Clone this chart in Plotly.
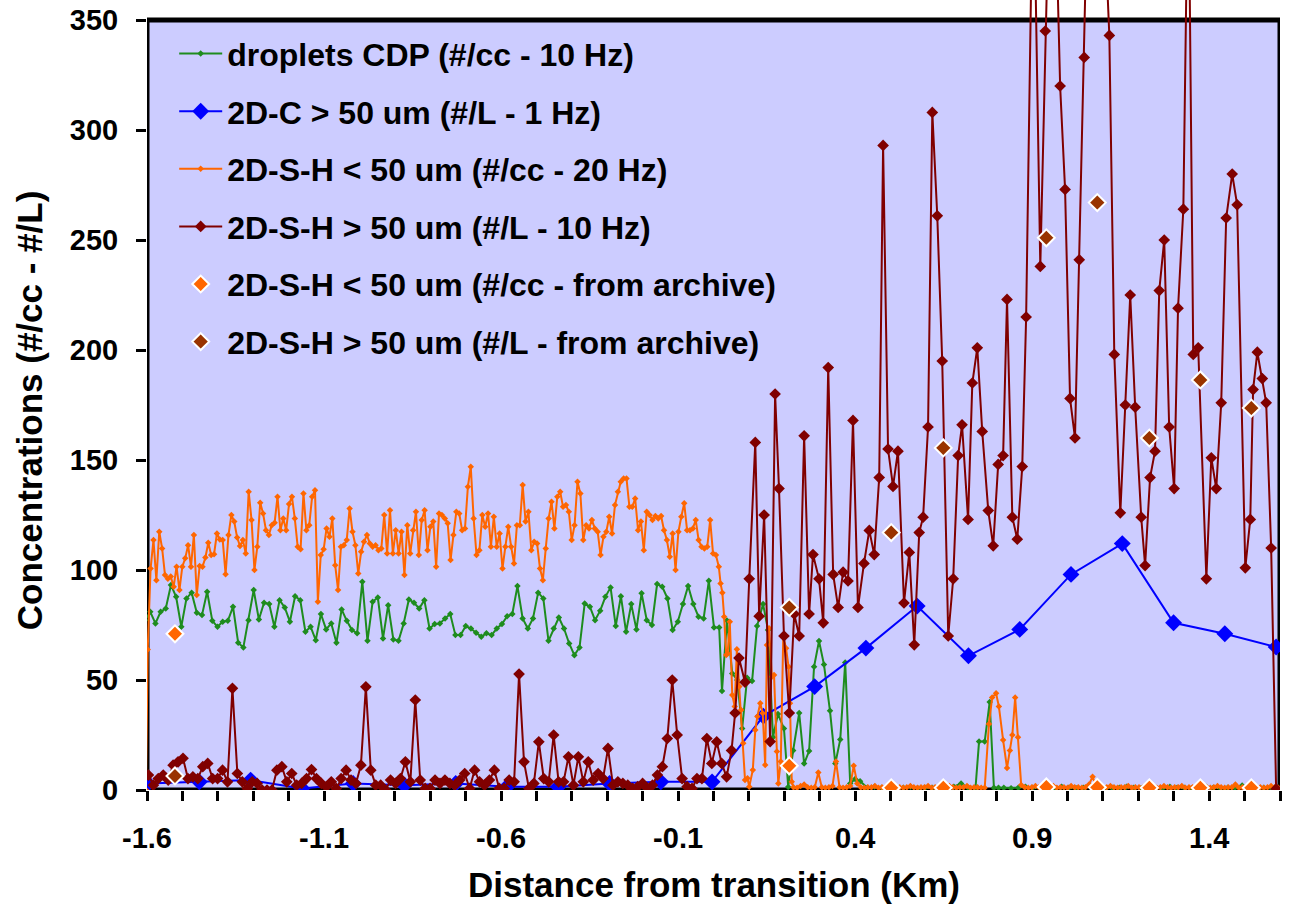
import numpy as np
import plotly.graph_objects as go

# ---------------- data (distance in km, concentrations) ----------------
# droplets CDP (#/cc - 10 Hz)
GREEN_SEG1_X = (-1.620, 0.016)
GREEN_SEG1_Y = [88, 77.2, 81, 75.7, 81, 82.5, 93.2, 87.8, 74.2, 87.1, 89.7, 80.6, 79.5, 90.1, 76.9, 74.2,
                76.5, 76.9, 83.3, 66.9, 64.8, 77.2, 90.9, 77.5, 85.1, 84.5, 74.2, 86.3, 83, 76.5, 88.1, 86.3,
                71.9, 74.2, 68.1, 80, 73, 75.7, 66.9, 82.1, 76.9, 72.7, 71.2, 94.7, 67.8, 85.6, 87.5, 68.9,
                84, 68.4, 67.8, 75.7, 86.6, 85.1, 82.5, 86.3, 73.4, 75.4, 75.7, 78, 80, 70.4, 70.4, 74.5,
                73.4, 71.5, 69.7, 71.2, 70.4, 73.4, 75.4, 79, 80, 92.7, 78, 73.4, 78, 89.7, 87.1, 67.8,
                73.4, 78.4, 73.4, 66.6, 61.3, 64.8, 84.8, 83.3, 77.2, 81.5, 87.8, 92.1, 74.5, 88.1, 71.9,
                84.5, 73, 89.4, 77.2, 75, 93.6, 92.4, 87.1, 72.7, 76.5, 84.5, 92.7, 84.5, 78.8, 78, 95.1,
                73.9, 73.9]
GREEN_SEG2_X = [0.024, 0.038, 0.053, 0.067, 0.081, 0.095, 0.109, 0.123, 0.140, 0.154, 0.168, 0.182, 0.199,
                0.211, 0.225, 0.242, 0.256, 0.270, 0.284, 0.298, 0.312, 0.329, 0.344, 0.358, 0.372, 0.386, 0.400]
GREEN_SEG2_Y = [45, 77, 53, 50, 28, 51, 49.5, 74.5, 84.5, 72.7, 24, 34.5, 28, 1.4, 18, 35, 12, 17.7, 56,
                67.7, 57, 36, 12, 23, 58, 3, 5]
GREEN_SEG3_X = (0.414, 0.740)
GREEN_SEG3_Y = [4, 1, 1.5, 1, 0.8, 1, 1, 1.5, 0.8, 1, 1, 0.8, 1, 1.5, 3, 1, 1]
GREEN_SEG4_X = [0.750, 0.766, 0.780, 0.792, 0.805]
GREEN_SEG4_Y = [22, 22, 40, 1, 1]
GREEN_SEG5_X = (0.820, 1.595)
GREEN_SEG5_Y = [1, 0.8, 1, 1.5, 1, 0.8, 1, 1, 1.5, 1, 0.8, 1, 2, 1, 0.8, 1, 1, 1.5, 1, 0.8,
                1, 1, 0.8, 1.5, 1, 1, 0.8, 1, 1.5, 1, 0.8, 1, 1, 2, 1, 0.8, 1, 1, 0.8]

# 2D-C > 50 um (#/L - 1 Hz)
BLUE_X = (-1.597, 1.589)
BLUE_Y = [3, 3.7, 4.5, 0.7, 3, 2.2, 3, 1.5, 1.5, 3, 3.7, 3.7, 33.6, 47, 64.5, 83.6, 61, 73, 98, 112, 76, 71, 65]

# 2D-S-H < 50 um (#/cc - 20 Hz)
ORANGE_SEG0_X = [-1.603]
ORANGE_SEG0_Y = [0]
ORANGE_SEG1_X = (-1.598, 0.015)
ORANGE_SEG1_Y = [63.9, 100.7, 113.6, 95.4, 117.4, 109.8, 97.7, 96, 97, 92.4, 101.5, 90.9, 101.5, 105.3, 111.3,
                 101.5, 115.9, 88.6, 101.8, 101.5, 105.7, 112.4, 106.8, 107.2, 116.6, 113.9, 113.6, 98.1,
                 115.9, 125, 122, 114.8, 110.9, 113.6, 107.5, 135.6, 122.7, 100, 110.6, 130.6, 125.7, 118.1,
                 115.9, 120.4, 121.5, 133.3, 118.1, 123.4, 118.1, 130, 133.3, 123.4, 110.6, 109.4, 134.8,
                 118.1, 120.4, 133.3, 136.3, 85.6, 106.8, 109.4, 118.9, 115.1, 123.4, 102.2, 90.9, 110.6,
                 111.3, 113.6, 128, 117.4, 111.3, 98.4, 108.3, 112.8, 115.9, 112.1, 110.6, 111.3, 109, 109.8,
                 125, 107.5, 127.2, 107.5, 118.1, 107.5, 117.4, 97.7, 120.4, 107.5, 118.1, 126.5, 106.8,
                 122.7, 127.2, 109, 119.7, 122, 101.5, 125.7, 125, 123.4, 121.2, 104.5, 115.9, 126.5, 125.7,
                 118.1, 118.9, 137.8, 146.9, 123.4, 106.8, 109, 125, 119.7, 125.7, 110.6, 124.2, 110.6, 116.6,
                 100.7, 110.6, 119.7, 110.6, 103, 120.4, 120.4, 138.6, 122, 126.5, 109, 112.8, 112.1, 100.7,
                 95.4, 109.8, 123.4, 131, 118.9, 133.3, 135.6, 128.7, 129.5, 126.5, 113.6, 120.4, 140.1,
                 134.8, 113.6, 120.4, 118.9, 122.7, 118.9, 117.4, 106.8, 115.1, 117.4, 124.2, 116.6, 129.5,
                 135.6, 140.1, 141.6, 141.6, 128.7, 128.7, 132.5, 118.1, 122, 109, 126.5, 125, 122.7, 124.5,
                 123.4, 124.5, 118.1, 113.6, 106, 116.6, 100, 117.4, 124.2, 130.3, 118.1, 118.1, 118.9,
                 122.7, 113.6, 110.6, 109.8, 110.6, 122.7, 107.5, 106.8, 101.5]
ORANGE_SEG2_X = [0.020, 0.025, 0.030, 0.036, 0.040, 0.046, 0.053, 0.060, 0.066, 0.073, 0.078, 0.084, 0.089,
                 0.096, 0.101, 0.111, 0.118, 0.124, 0.132, 0.139, 0.146, 0.151, 0.157, 0.165, 0.171, 0.179,
                 0.183, 0.190, 0.197, 0.205, 0.212, 0.216, 0.221]
ORANGE_SEG2_Y = [93.9, 89.7, 78.8, 61.4, 62, 76.5, 43.2, 37.9, 64, 47, 36.4, 21.2, 4.6, 5.3, 1.5, 9.1, 27.3,
                 33.4, 39.4, 34.9, 11.4, 65.9, 73.5, 51.5, 52.3, 17.5, 3, 12.9, 69.7, 64.4, 56, 39.4, 3.8]
ORANGE_SEG3_X = (0.226, 0.756)
ORANGE_SEG3_Y = [1.2, 1, 1.8, 2.5, 1.2, 1, 1.2, 8, 1.2, 1, 1.2, 1.8, 13, 1.2, 1, 1.2, 1.8, 11, 3, 1.2,
                 1, 1.2, 1.2, 1.8, 1, 1.2, 1.2, 1, 1.8, 1.2, 1.2, 1, 1.2, 1.8, 1.2, 1, 1.2, 1.2, 1.8, 1,
                 1.2, 1.2, 1, 1.2, 1.8, 1.2, 1, 1.2, 1.2, 1.8, 1, 1.2, 1.2, 1]
ORANGE_SEG4_X = [0.766, 0.778, 0.787, 0.798, 0.806, 0.818, 0.829, 0.837, 0.844, 0.852, 0.860, 0.869]
ORANGE_SEG4_Y = [1, 30, 42, 44, 38, 22.7, 10, 18, 25, 42, 24, 2.3]
ORANGE_SEG5_X = (0.879, 1.595)
ORANGE_SEG5_Y = [1.2, 1, 1.2, 1.8, 1.2, 1, 1.2, 1.2, 1.8, 1, 1.2, 1.2, 1, 1.8, 1.2, 1.2, 1, 1.2, 2.5, 6,
                 1.8, 1.2, 1, 1.2, 1.8, 1.2, 1, 1.2, 1.2, 1.8, 1, 1.2, 1.2, 1, 1.8, 1.2, 1.2, 1, 1.2, 1.8,
                 1.2, 1, 1.2, 1.2, 1.8, 1, 1.2, 1.2, 1, 1.8, 1.2, 1.2, 1, 1.2, 1.8, 1.2, 1, 1.2, 1.2, 2.5,
                 1, 1.2, 1.2, 1, 1.8, 1.2, 1.2, 1, 1.2, 1.8, 1.2, 1]

# 2D-S-H > 50 um (#/L - 10 Hz)
RED_SEG1_X = (-1.596, 0.051)
RED_SEG1_Y = [6.8, 2.2, 5.2, 6.8, 4.5, 11.3, 12.8, 14.4, 5.2, 6, 5.2, 10.6, 12.1, 5.2, 5.2, 9, 3.7, 46.2,
              7.5, 3.7, 0.7, 3.7, 3, 0, 0, 0, 9, 10.6, 3.7, 7.5, 2.2, 3, 5.2, 9.3, 5.2, 3, 1.5, 3.7, 0.7,
              5.2, 9, 4.5, 3, 11.3, 46.9, 9, 2.2, 2.2, 0, 4.5, 3, 5.2, 12.8, 3.7, 40.9, 4.5, 0.7, 0.7, 4.5,
              3, 4.5, 3, 2.2, 4.5, 7.5, 0.7, 9, 3.7, 2.2, 4.5, 9, 0.7, 0.7, 4.5, 3.7, 52.7, 12.8, 0.7, 3,
              21.9, 5.2, 3.7, 25, 3.7, 3.7, 15.1, 2.2, 15.1, 3.7, 12.8, 4.5, 7.5, 5.2, 18.9, 2.2, 3.7, 3,
              2.2, 0.7, 1.5, 3, 0.7, 2.2, 6.8, 10.6, 23.4, 50, 25, 5.2, 1.5, 0.7, 5.2, 5.2, 23.4, 12.1,
              21.9, 12.1, 6, 18]
RED_SEG2_X = [0.061, 0.072, 0.089, 0.101, 0.118, 0.129, 0.143, 0.160, 0.174, 0.185, 0.199, 0.214, 0.228,
              0.242, 0.256, 0.270, 0.281, 0.298, 0.310, 0.324, 0.338, 0.352, 0.366, 0.380, 0.394, 0.408,
              0.425, 0.440, 0.454, 0.468, 0.479, 0.493, 0.507, 0.521, 0.538, 0.553, 0.567, 0.581, 0.592,
              0.606, 0.618, 0.632, 0.646, 0.663, 0.677, 0.691, 0.702, 0.719, 0.731, 0.745, 0.759, 0.776,
              0.790, 0.804, 0.818, 0.829, 0.844, 0.858, 0.872, 0.883, 0.903, 0.923, 0.937, 0.951, 0.965,
              0.979, 0.993, 1.007, 1.021, 1.033, 1.047, 1.061, 1.075, 1.089, 1.103, 1.118, 1.132, 1.149,
              1.163, 1.177, 1.191, 1.208, 1.219, 1.233, 1.247, 1.259, 1.273, 1.287, 1.301, 1.312, 1.327,
              1.341, 1.355, 1.369, 1.392, 1.406, 1.420, 1.434, 1.448, 1.465, 1.479, 1.502, 1.516, 1.524,
              1.536, 1.550, 1.561, 1.575, 1.589]
RED_SEG2_Y = [35, 60, 49, 96, 158, 79, 125, 22, 180, 137, 70, 35, 80, 70, 161, 80, 107, 96, 76, 192, 98, 83,
              99, 95, 168, 83, 103, 118, 107, 142, 293, 155, 138, 154, 85, 108, 66, 117, 124, 165, 308, 261,
              195, 70, 96, 152, 166, 123, 185, 201, 163, 127, 111, 148, 152, 223, 124, 114, 147, 215, 430,
              238, 345, 430, 410, 320, 273, 178, 160, 241, 333, 440, 450, 430, 400, 343, 198, 126, 175, 225,
              174, 124, 102, 142, 154, 227, 250, 165, 137, 219, 264, 430, 198, 201, 96, 151, 137, 176, 260,
              280, 266, 101, 123, 182, 199, 187, 176, 110, 0.5]

# archive values (1 Hz)
ARCH_X = [-1.521, 0.214, 0.502, 0.649, 0.940, 1.084, 1.231, 1.375, 1.519]
ARCH_SMALL_Y = [71, 11, 1, 1, 1.4, 1.2, 1, 1, 1]
ARCH_LARGE_Y = [6.4, 83, 117, 155.5, 251, 267, 160, 186.4, 173.6]

X_TICKS = [round(-1.6 + 0.1 * i, 1) for i in range(33)]
X_LABELS = ['-1.6', '-1.1', '-0.6', '-0.1', '0.4', '0.9', '1.4']
Y_TICKS = [0, 50, 100, 150, 200, 250, 300, 350]

NAMES = ['droplets CDP (#/cc - 10 Hz)', '2D-C > 50 um (#/L - 1 Hz)', '2D-S-H < 50 um (#/cc - 20 Hz)',
         '2D-S-H > 50 um (#/L - 10 Hz)', '2D-S-H < 50 um (#/cc - from archive)',
         '2D-S-H > 50 um (#/L - from archive)']


def seg_uniform(xr, vals):
    return list(np.linspace(xr[0], xr[1], len(vals))), list(vals)


def join(*parts):
    xs, ys = [], []
    for px, py in parts:
        xs += list(px)
        ys += list(py)
    return xs, ys


gx, gy = join(seg_uniform(GREEN_SEG1_X, GREEN_SEG1_Y), (GREEN_SEG2_X, GREEN_SEG2_Y),
              seg_uniform(GREEN_SEG3_X, GREEN_SEG3_Y), (GREEN_SEG4_X, GREEN_SEG4_Y),
              seg_uniform(GREEN_SEG5_X, GREEN_SEG5_Y))
bx, by = seg_uniform(BLUE_X, BLUE_Y)
ox, oy = join((ORANGE_SEG0_X, ORANGE_SEG0_Y), seg_uniform(ORANGE_SEG1_X, ORANGE_SEG1_Y),
              (ORANGE_SEG2_X, ORANGE_SEG2_Y), seg_uniform(ORANGE_SEG3_X, ORANGE_SEG3_Y),
              (ORANGE_SEG4_X, ORANGE_SEG4_Y), seg_uniform(ORANGE_SEG5_X, ORANGE_SEG5_Y))
rx, ry = join(seg_uniform(RED_SEG1_X, RED_SEG1_Y), (RED_SEG2_X, RED_SEG2_Y))

GREEN = '#1E8C1E'
BLUE = '#0000FF'
ORANGE = '#FF6600'
DARKRED = '#800000'
BROWN = '#993300'
BG = '#CCCCFF'
FONT = 'Liberation Sans, Arial, sans-serif'

fig = go.Figure()
fig.add_trace(go.Scatter(x=gx, y=gy, mode='lines+markers', name=NAMES[0], legendgroup='a',
                         line=dict(color=GREEN, width=2),
                         marker=dict(symbol='diamond', size=5, color=GREEN)))
fig.add_trace(go.Scatter(x=bx, y=by, mode='lines+markers', name=NAMES[1], legendgroup='b',
                         line=dict(color=BLUE, width=2),
                         marker=dict(symbol='diamond', size=13, color=BLUE)))
fig.add_trace(go.Scatter(x=ox, y=oy, mode='lines+markers', name=NAMES[2], legendgroup='c',
                         line=dict(color=ORANGE, width=2),
                         marker=dict(symbol='diamond', size=5, color=ORANGE)))
fig.add_trace(go.Scatter(x=rx, y=ry, mode='lines+markers', name=NAMES[3], legendgroup='d',
                         line=dict(color=DARKRED, width=2),
                         marker=dict(symbol='diamond', size=9, color=DARKRED)))
fig.add_trace(go.Scatter(x=ARCH_X, y=ARCH_SMALL_Y, mode='markers', name=NAMES[4], legendgroup='e',
                         marker=dict(symbol='diamond', size=13, color=ORANGE,
                                     line=dict(color='white', width=2))))
fig.add_trace(go.Scatter(x=ARCH_X, y=ARCH_LARGE_Y, mode='markers', name=NAMES[5], legendgroup='f',
                         marker=dict(symbol='diamond', size=13, color=BROWN,
                                     line=dict(color='white', width=2))))

fig.update_layout(
    width=1290, height=905,
    margin=dict(l=147, r=10, t=0, b=115, autoexpand=False),
    paper_bgcolor='white', plot_bgcolor='white',
    font=dict(family=FONT, color='black'),
    showlegend=True,
    legend=dict(x=0.024, y=0.9667, xanchor='left', yanchor='top', bgcolor='rgba(0,0,0,0)',
                font=dict(family=FONT, size=32, color='black', weight='bold'),
                tracegroupgap=13, itemwidth=43, traceorder='grouped'),
    xaxis=dict(range=[-1.6, 1.6], tickmode='array', tickvals=X_TICKS,
               ticktext=[X_LABELS[i // 5] if i % 5 == 0 else '' for i in range(len(X_TICKS))],
               ticks='outside', ticklen=10, tickwidth=3, tickcolor='black',
               showgrid=False, zeroline=False, showline=False, ticklabelstandoff=12,
               tickfont=dict(family=FONT, size=29, color='black', weight='bold')),
    yaxis=dict(range=[0, 359.1], tickmode='array', tickvals=Y_TICKS,
               ticks='outside', ticklen=10, tickwidth=3, tickcolor='black',
               showgrid=False, zeroline=False, showline=False, ticklabelstandoff=12,
               ticklabeloverflow='allow',
               tickfont=dict(family=FONT, size=29, color='black', weight='bold')),
    shapes=[
        dict(type='rect', xref='x', yref='y', x0=-1.6, x1=1.6, y0=0, y1=350,
             fillcolor=BG, line=dict(width=0), layer='below'),
        dict(type='rect', xref='x', yref='y', x0=-1.6, x1=1.6, y0=0, y1=350,
             fillcolor='rgba(0,0,0,0)', line=dict(color='black', width=5), layer='below'),
    ],
    annotations=[
        dict(text='Distance from transition (Km)', xref='paper', yref='paper', x=0.5, y=-0.119,
             xanchor='center', yanchor='middle', showarrow=False,
             font=dict(family=FONT, size=35, color='black', weight='bold')),
        dict(text='Concentrations (#/cc - #/L)', xref='paper', yref='paper', x=-0.104, y=0.481,
             xanchor='center', yanchor='middle', textangle=-90, showarrow=False,
             font=dict(family=FONT, size=35, color='black', weight='bold')),
    ],
)

fig.write_html('out.html', config=dict(displayModeBar=False),
               post_script="document.body.style.margin='0';")
